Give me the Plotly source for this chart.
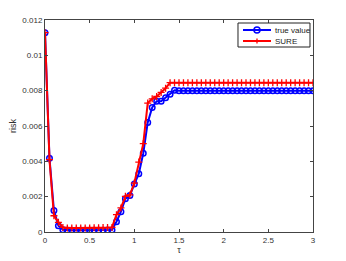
import plotly.graph_objects as go

tau = [round(i * 0.05, 2) for i in range(61)]

true_head = [0.01128, 0.00418, 0.00121, 0.00036, 0.00013,
             0.0001, 0.0001, 0.0001, 0.0001, 0.0001, 0.0001, 0.0001, 0.0001, 0.0001, 0.00011, 0.00012,
             0.00058, 0.00115, 0.00188, 0.00207, 0.00271, 0.0033, 0.00446, 0.0062, 0.00705,
             0.0074, 0.0074, 0.0076, 0.0078, 0.00802]
true_value = true_head + [0.008] * (61 - len(true_head))

sure_head = [0.01128, 0.0041, 0.00092, 0.00055, 0.00026,
             0.00022, 0.00022, 0.00022, 0.00022, 0.00023, 0.00023, 0.00024, 0.00024, 0.00025, 0.00025, 0.00026,
             0.00098, 0.00136, 0.00202, 0.0021, 0.00277, 0.00396, 0.005, 0.0073, 0.00754,
             0.00767, 0.0079, 0.00814, 0.00845]
sure = sure_head + [0.00845] * (61 - len(sure_head))

series_names = ["true value", "SURE"]
series_colors = ["#0000ff", "#ff0000"]

fig = go.Figure()
fig.add_trace(go.Scatter(
    x=tau, y=true_value, name=series_names[0], mode="lines+markers", showlegend=False,
    line=dict(color=series_colors[0], width=2),
    marker=dict(symbol="circle-open", size=5.5, color=series_colors[0], line=dict(width=1.5, color=series_colors[0])),
))
fig.add_trace(go.Scatter(
    x=tau, y=sure, name=series_names[1], mode="lines+markers", showlegend=False,
    line=dict(color=series_colors[1], width=2),
    marker=dict(symbol="cross-thin-open", size=5, color=series_colors[1], line=dict(width=1.3, color=series_colors[1])),
))

# compact MATLAB-style legend drawn in paper coordinates
shapes = [dict(type="rect", xref="paper", yref="paper", x0=0.7201, x1=0.9888, y0=0.8726, y1=0.9858,
               line=dict(color="#222", width=1), fillcolor="white", layer="above")]
annotations = []
rows_y = [0.9528, 0.9009]
mx = 0.7910
for name, col, ry in zip(series_names, series_colors, rows_y):
    shapes.append(dict(type="line", xref="paper", yref="paper", x0=0.7388, x1=0.8433, y0=ry, y1=ry,
                       line=dict(color=col, width=2), layer="above"))
    annotations.append(dict(text=name, xref="paper", yref="paper", x=0.8507, y=ry, xanchor="left",
                            yanchor="middle", showarrow=False,
                            font=dict(family="Liberation Sans", size=8, color="#222")))
shapes.append(dict(type="circle", xref="paper", yref="paper", xsizemode="pixel", ysizemode="pixel",
                   xanchor=mx, yanchor=rows_y[0], x0=-3, x1=3, y0=-3, y1=3,
                   line=dict(color=series_colors[0], width=1.5), layer="above"))
shapes.append(dict(type="line", xref="paper", yref="paper", xsizemode="pixel", ysizemode="pixel",
                   xanchor=mx, yanchor=rows_y[1], x0=-2.5, x1=2.5, y0=0, y1=0,
                   line=dict(color=series_colors[1], width=1.3), layer="above"))
shapes.append(dict(type="line", xref="paper", yref="paper", xsizemode="pixel", ysizemode="pixel",
                   xanchor=mx, yanchor=rows_y[1], x0=0, x1=0, y0=-2.5, y1=2.5,
                   line=dict(color=series_colors[1], width=1.3), layer="above"))

axis_common = dict(
    showgrid=False, zeroline=False, showline=True, linecolor="#444", linewidth=1,
    mirror="ticks", ticks="inside", ticklen=3, tickcolor="#444", automargin=False,
    tickfont=dict(family="Liberation Sans", size=8, color="#333"),
)
fig.update_layout(
    width=338, height=253,
    margin=dict(l=37, r=33, t=12, b=29, autoexpand=False),
    paper_bgcolor="white", plot_bgcolor="white",
    showlegend=False,
    shapes=shapes, annotations=annotations,
    xaxis=dict(range=[0, 3], tickvals=[0, 0.5, 1, 1.5, 2, 2.5, 3],
               ticktext=["0", "0.5", "1", "1.5", "2", "2.5", "3"],
               title=dict(text="τ", font=dict(family="Liberation Sans", size=9, color="#333"), standoff=2),
               **axis_common),
    yaxis=dict(range=[0, 0.012], tickvals=[0, 0.002, 0.004, 0.006, 0.008, 0.01, 0.012],
               ticktext=["0", "0.002", "0.004", "0.006", "0.008", "0.01", "0.012"],
               title=dict(text="risk", font=dict(family="Liberation Sans", size=9, color="#333"), standoff=6),
               **axis_common),
)
fig.write_html("out.html")
